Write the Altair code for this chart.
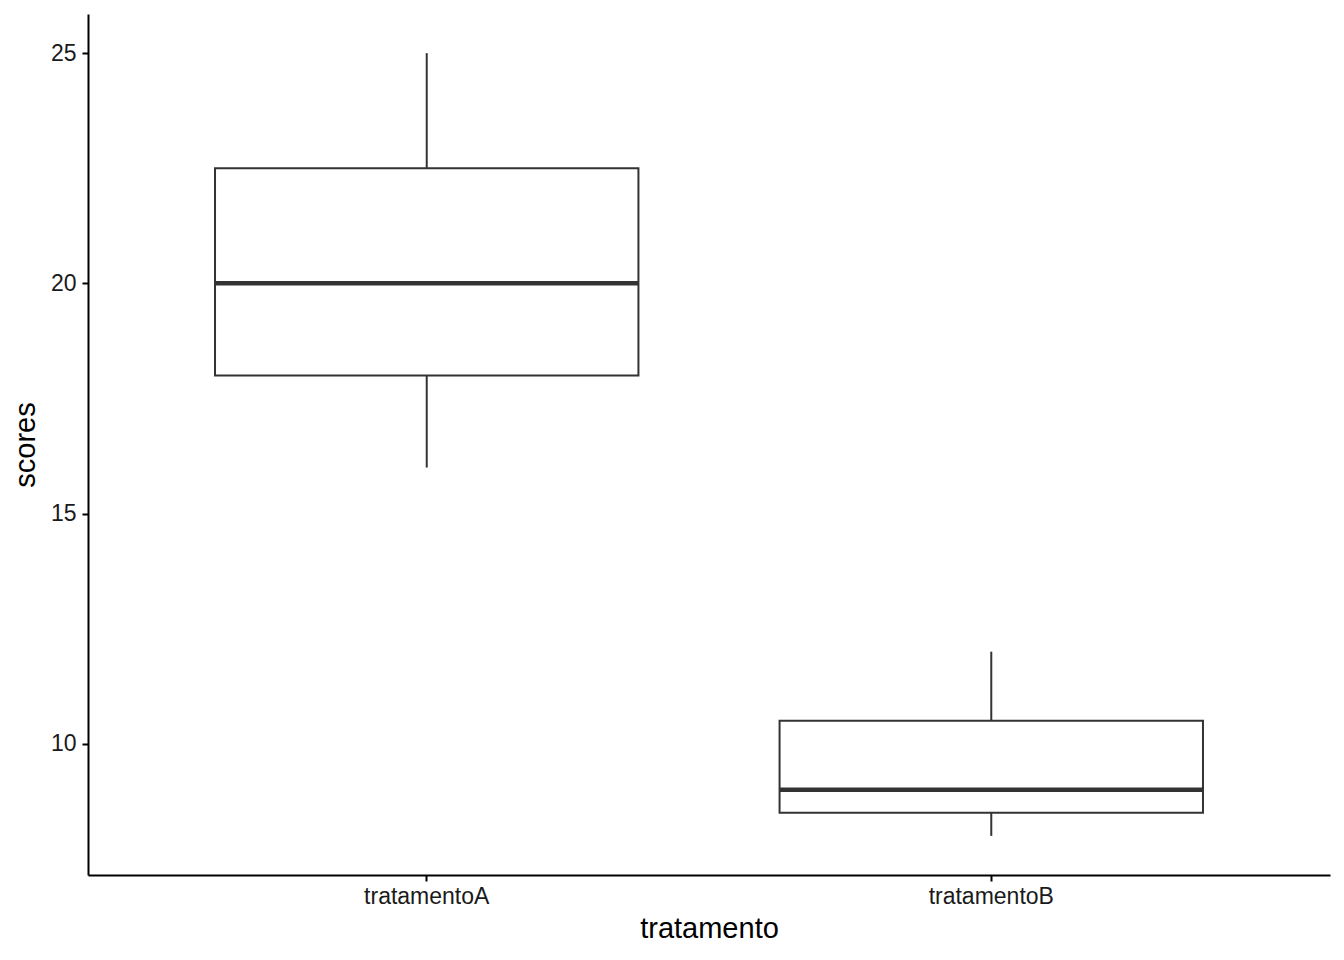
import pandas as pd
import altair as alt

# --- Données ---
groups = ["tratamentoA", "tratamentoB"]
whisker_low = [16, 8]
q1 = [18, 8.5]
median = [20, 9]
q3 = [22.5, 10.5]
whisker_high = [25, 12]

df = pd.DataFrame({
    "tratamento": groups,
    "lo": whisker_low,
    "q1": q1,
    "med": median,
    "q3": q3,
    "hi": whisker_high,
})

x_enc = alt.X(
    "tratamento:N",
    title="tratamento",
    scale=alt.Scale(paddingInner=0.25, paddingOuter=0.225),
    axis=alt.Axis(labelAngle=0, labelFontSize=23, titleFontSize=29, labelPadding=4, titlePadding=6),
)
y_scale = alt.Scale(domain=[7.15, 25.85], nice=False, zero=False)

base = alt.Chart(df).encode(x=x_enc)

upper = base.mark_rule(color="#333333", strokeWidth=2).encode(
    y=alt.Y(
        "q3:Q", scale=y_scale, title="scores",
        axis=alt.Axis(values=[10, 15, 20, 25], labelFontSize=23, titleFontSize=29, labelPadding=6, titlePadding=10),
    ),
    y2="hi:Q",
)
lower = base.mark_rule(color="#333333", strokeWidth=2).encode(
    y=alt.Y("lo:Q", scale=y_scale),
    y2="q1:Q",
)
box = base.mark_bar(fill="white", stroke="#333333", strokeWidth=2).encode(
    y=alt.Y("q1:Q", scale=y_scale),
    y2="q3:Q",
)
mid = base.mark_tick(color="#333333", thickness=4.5, size=423, opacity=1).encode(
    y=alt.Y("med:Q", scale=y_scale),
)

chart = (
    alt.layer(upper, lower, box, mid)
    .properties(
        width=1242,
        height=861,
        autosize=alt.AutoSizeParams(type="none"),
        padding={"left": 80, "top": 6, "right": 6, "bottom": 80},
    )
    .configure_view(stroke=None)
    .configure_axis(
        grid=False,
        domainColor="black",
        domainWidth=2,
        tickColor="black",
        tickWidth=2,
        tickSize=6,
        labelFont="Liberation Sans",
        labelColor="#1a1a1a",
        titleFont="Liberation Sans",
        titleFontWeight="normal",
        titleColor="black",
    )
)

chart.save("out.html", embed_options={"renderer": "svg", "actions": False})
